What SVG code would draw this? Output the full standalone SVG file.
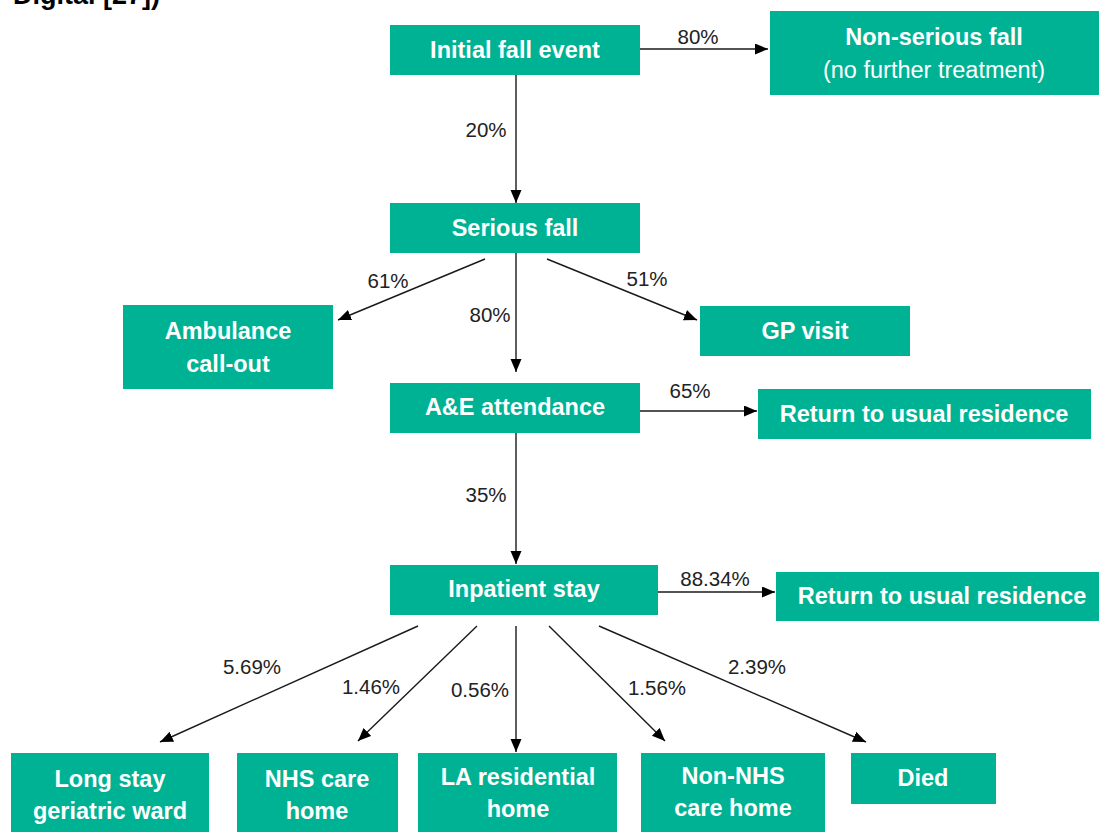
<svg xmlns="http://www.w3.org/2000/svg" width="1099" height="832" viewBox="0 0 1099 832">
<defs>
<marker id="ah" markerUnits="userSpaceOnUse" markerWidth="14" markerHeight="12" refX="13" refY="5.5" orient="auto">
<path d="M0,0 L13,5.5 L0,11 z" fill="#000"/>
</marker>
<style>
.box{fill:#00B294;}
.t{font-family:"Liberation Sans",Arial,sans-serif;font-size:23.5px;font-weight:bold;fill:#fff;text-anchor:middle;}
.tr{font-family:"Liberation Sans",Arial,sans-serif;font-size:23.5px;fill:#fff;text-anchor:middle;}
.lbl{font-family:"Liberation Sans",Arial,sans-serif;font-size:20.5px;fill:#222;text-anchor:middle;}
.c{stroke:#1a1a1a;stroke-width:1.4;fill:none;marker-end:url(#ah);}
</style>
</defs>
<rect width="1099" height="832" fill="#fff"/>
<text x="13" y="4" font-family="Liberation Sans,Arial,sans-serif" font-size="27" font-weight="bold" fill="#000">Digital [27])</text>

<g id="connectors">
<line class="c" x1="640" y1="49" x2="768" y2="49"/>
<line class="c" x1="516" y1="75" x2="516" y2="203"/>
<line class="c" x1="485" y1="259" x2="338" y2="320"/>
<line class="c" x1="516" y1="253" x2="516" y2="372"/>
<line class="c" x1="547" y1="259" x2="697" y2="320"/>
<line class="c" x1="640" y1="411" x2="757" y2="411"/>
<line class="c" x1="516" y1="433" x2="516" y2="564"/>
<line class="c" x1="658" y1="592" x2="775" y2="592"/>
<line class="c" x1="418" y1="626" x2="160" y2="742"/>
<line class="c" x1="477" y1="626" x2="358" y2="741"/>
<line class="c" x1="516" y1="626" x2="516" y2="752"/>
<line class="c" x1="549" y1="626" x2="665" y2="741"/>
<line class="c" x1="599" y1="626" x2="866" y2="742"/>
<text class="lbl" x="698" y="44">80%</text>
<text class="lbl" x="486" y="137">20%</text>
<text class="lbl" x="388" y="288">61%</text>
<text class="lbl" x="490" y="322">80%</text>
<text class="lbl" x="647" y="286">51%</text>
<text class="lbl" x="690" y="398">65%</text>
<text class="lbl" x="486" y="502">35%</text>
<text class="lbl" x="715" y="586">88.34%</text>
<text class="lbl" x="252" y="674">5.69%</text>
<text class="lbl" x="371" y="694">1.46%</text>
<text class="lbl" x="480" y="697">0.56%</text>
<text class="lbl" x="657" y="695">1.56%</text>
<text class="lbl" x="757" y="674">2.39%</text>
</g>

<g id="initial"><rect class="box" x="390" y="25" width="250" height="50"/><text class="t" x="515" y="58">Initial fall event</text></g>
<g id="nonserious"><rect class="box" x="770" y="11" width="329" height="84"/><text class="t" x="934" y="45">Non-serious fall</text><text class="tr" x="934" y="78">(no further treatment)</text></g>
<g id="serious"><rect class="box" x="390" y="203" width="250" height="50"/><text class="t" x="515" y="236">Serious fall</text></g>
<g id="ambulance"><rect class="box" x="123" y="305" width="210" height="84"/><text class="t" x="228" y="339">Ambulance</text><text class="t" x="228" y="372">call-out</text></g>
<g id="gp"><rect class="box" x="700" y="306" width="210" height="50"/><text class="t" x="805" y="339">GP visit</text></g>
<g id="ae"><rect class="box" x="390" y="383" width="250" height="50"/><text class="t" x="515" y="415">A&amp;E attendance</text></g>
<g id="return1"><rect class="box" x="758" y="389" width="333" height="50"/><text class="t" x="924" y="422">Return to usual residence</text></g>
<g id="inpatient"><rect class="box" x="390" y="565" width="268" height="50"/><text class="t" x="524" y="597">Inpatient stay</text></g>
<g id="return2"><rect class="box" x="776" y="572" width="323" height="49"/><text class="t" x="942" y="604">Return to usual residence</text></g>
<g id="longstay"><rect class="box" x="11" y="753" width="198" height="79"/><text class="t" x="110" y="787">Long stay</text><text class="t" x="110" y="819">geriatric ward</text></g>
<g id="nhs"><rect class="box" x="237" y="753" width="161" height="79"/><text class="t" x="317" y="787">NHS care</text><text class="t" x="317" y="819">home</text></g>
<g id="la"><rect class="box" x="418" y="753" width="199" height="79"/><text class="t" x="518" y="785">LA residential</text><text class="t" x="518" y="817">home</text></g>
<g id="nonnhs"><rect class="box" x="641" y="753" width="184" height="79"/><text class="t" x="733" y="784">Non-NHS</text><text class="t" x="733" y="816">care home</text></g>
<g id="died"><rect class="box" x="851" y="753" width="145" height="51"/><text class="t" x="923" y="786">Died</text></g>
</svg>
